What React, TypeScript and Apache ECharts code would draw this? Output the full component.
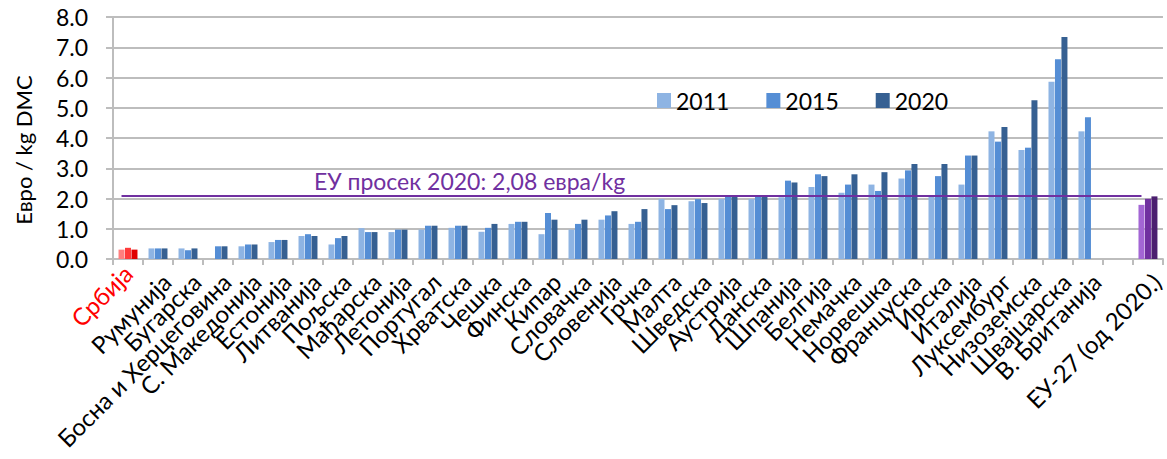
import React, { useEffect, useRef } from "react";
import * as echarts from "echarts";

const categories = [
  "Србија", "Румунија", "Бугарска", "Босна и Херцеговина", "С. Македонија", "Естонија",
  "Литванија", "Пољска", "Мађарска", "Летонија", "Португал", "Хрватска", "Чешка", "Финска",
  "Кипар", "Словачка", "Словенија", "Грчка", "Малта", "Шведска", "Аустрија", "Данска",
  "Шпанија", "Белгија", "Немачка", "Норвешка", "Француска", "Ирска", "Италија", "Луксембург",
  "Низоземска", "Швајцарска", "В. Британија", "", "ЕУ-27 (од 2020.)",
];

const values2011 = [
  0.31, 0.35, 0.35, null, 0.42, 0.56, 0.76, 0.48, 1.02, 0.89, 0.97, 1.03, 0.9, 1.16,
  0.82, 0.97, 1.3, 1.16, 1.98, 1.91, 1.98, 1.98, 2.04, 2.38, 2.19, 2.46, 2.66, 2.05,
  2.46, 4.22, 3.6, 5.86, 4.22, null, 1.79,
];
const values2015 = [
  0.37, 0.35, 0.29, 0.42, 0.48, 0.63, 0.82, 0.69, 0.89, 0.97, 1.1, 1.1, 1.03, 1.23,
  1.52, 1.16, 1.44, 1.23, 1.65, 1.98, 2.08, 2.08, 2.59, 2.8, 2.46, 2.25, 2.93, 2.74,
  3.42, 3.88, 3.68, 6.6, 4.69, null, 1.99,
];
const values2020 = [
  0.31, 0.35, 0.35, 0.42, 0.48, 0.63, 0.76, 0.76, 0.89, 0.97, 1.1, 1.1, 1.16, 1.23,
  1.3, 1.3, 1.58, 1.65, 1.78, 1.85, 2.08, 2.08, 2.53, 2.74, 2.8, 2.87, 3.14, 3.14,
  3.42, 4.36, 5.25, 7.34, null, null, 2.07,
];
const seriesNames = ["2011", "2015", "2020"];
const yTicks = [0, 1, 2, 3, 4, 5, 6, 7, 8];
const euAverage = 2.08;
const euAverageLabel = "ЕУ просек 2020: 2,08 евра/kg";
const yAxisTitle = "Евро / kg DMC";

const FONT = "Lato, 'Open Sans', sans-serif";
const blueColors = ["#8eb4e3", "#558ed5", "#366092"];
const redColors = ["#ff7f7f", "#ff3b3b", "#e00000"];
const purpleColors = ["#a366d4", "#7030a0", "#4b1f6f"];
const SERBIA_INDEX = 0;
const EU_INDEX = categories.length - 1;

export default function App() {
  const ref = useRef<HTMLDivElement>(null);

  useEffect(() => {
    document.body.style.margin = "0";
    if (!ref.current) return;
    const chart = echarts.init(ref.current, undefined, { renderer: "svg" });
    const allValues = [values2011, values2015, values2020];

    const barSeries = allValues.map((vals, si) => ({
      name: seriesNames[si],
      type: "bar",
      barWidth: 6,
      barGap: "8%",
      itemStyle: { color: blueColors[si] },
      data: vals.map((v, i) => {
        if (i === SERBIA_INDEX) return { value: v, itemStyle: { color: redColors[si] } };
        if (i === EU_INDEX) return { value: v, itemStyle: { color: purpleColors[si] } };
        return v;
      }),
      ...(si === 0
        ? {
            markLine: {
              silent: true,
              symbol: "none",
              lineStyle: { color: "#7030a0", width: 2, type: "solid" },
              label: { show: false },
              data: [[{ coord: [0, euAverage] }, { coord: [EU_INDEX, euAverage] }]],
            },
            markPoint: {
              silent: true,
              symbol: "rect",
              symbolSize: 0,
              data: [{ coord: [12, euAverage] }],
              label: {
                show: true,
                position: "top",
                distance: 4,
                offset: [-12, 0],
                formatter: euAverageLabel,
                color: "#7030a0",
                fontSize: 23,
                fontFamily: FONT,
              },
            },
          }
        : {}),
    }));

    chart.setOption({
      animation: false,
      textStyle: { fontFamily: FONT },
      grid: { left: 113, right: 0, top: 17, bottom: 200, containLabel: false },
      legend: {
        data: seriesNames,
        left: 652,
        top: 84,
        itemWidth: 14,
        itemHeight: 15,
        itemGap: 37,
        icon: "rect",
        textStyle: { fontSize: 23, color: "#000", fontFamily: FONT },
      },
      xAxis: {
        type: "category",
        data: categories.map((c, i) =>
          i === SERBIA_INDEX ? { value: c, textStyle: { color: "#ff0000" } } : c
        ),
        axisLine: { lineStyle: { color: "#bdbdbd", width: 2 } },
        axisTick: { show: true, length: 6, lineStyle: { color: "#bdbdbd", width: 2 } },
        axisLabel: {
          interval: 0,
          rotate: 45,
          align: "right",
          verticalAlign: "top",
          fontSize: 24,
          color: "#000",
          fontFamily: FONT,
          margin: 10,
        },
      },
      yAxis: {
        type: "value",
        min: yTicks[0],
        max: yTicks[yTicks.length - 1],
        interval: 1,
        axisLine: { show: true, lineStyle: { color: "#bdbdbd", width: 2 } },
        axisTick: { show: true, length: 7, lineStyle: { color: "#bdbdbd", width: 2 } },
        splitLine: { lineStyle: { color: "#bdbdbd", width: 2 } },
        axisLabel: {
          fontSize: 23,
          color: "#000",
          fontFamily: FONT,
          margin: 25,
          formatter: (v: number) => v.toFixed(1),
        },
      },
      graphic: [
        {
          type: "text",
          x: 23,
          y: 150,
          rotation: Math.PI / 2,
          style: {
            text: yAxisTitle,
            fontSize: 22,
            fontFamily: FONT,
            fill: "#000",
            align: "center",
            verticalAlign: "middle",
          },
        },
      ],
      series: barSeries,
    });

    return () => chart.dispose();
  }, []);

  return <div ref={ref} style={{ width: 1167, height: 459 }} />;
}
